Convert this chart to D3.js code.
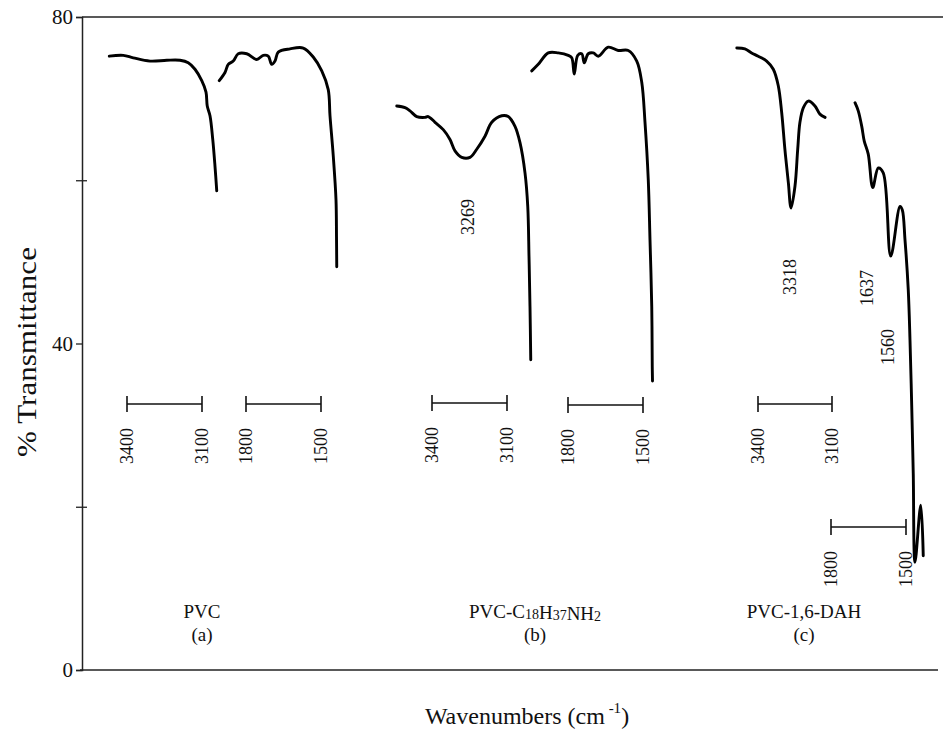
<!DOCTYPE html>
<html>
<head>
<meta charset="utf-8">
<script src="https://cdn.jsdelivr.net/npm/d3@7"></script>
<style>
  body { margin: 0; background: #fff; }
  text { font-family: "Liberation Serif", "Times New Roman", serif; fill: #111; }
</style>
</head>
<body>
<div class="container"></div>
<script>
/* y axis */
var yTicks = [0, 20, 40, 60, 80];
var yTickLabels = ['0', '', '40', '', '80'];

/* PVC (a) */
var pvcOhWn = [3471, 3415, 3375, 3308, 3241, 3188, 3155, 3128, 3101, 3084, 3079, 3068, 3057, 3048, 3041];
var pvcOhT  = [75.2, 75.3, 75.0, 74.6, 74.7, 74.7, 74.4, 73.6, 72.2, 70.8, 69.1, 67.9, 65.0, 61.7, 58.7];
var pvcCoWn = [1907, 1884, 1871, 1851, 1831, 1797, 1757, 1731, 1711, 1697, 1684, 1671, 1624, 1571, 1531, 1497, 1471, 1464, 1451, 1440, 1438, 1437];
var pvcCoT  = [72.2, 73.2, 74.2, 74.6, 75.5, 75.5, 74.8, 75.3, 75.2, 74.2, 74.6, 75.7, 76.1, 76.2, 75.1, 73.4, 71.1, 67.9, 63.0, 57.6, 53.1, 49.4];

/* PVC-C18H37NH2 (b) */
var odaOhWn = [3541, 3508, 3488, 3461, 3428, 3415, 3388, 3355, 3328, 3308, 3281, 3248, 3221, 3188, 3161, 3121, 3095, 3068, 3048, 3028, 3017, 3012, 3008, 3005];
var odaOhT  = [69.1, 68.9, 68.5, 67.8, 67.7, 67.8, 67.1, 66.2, 65.0, 63.6, 62.8, 62.8, 63.8, 65.4, 67.1, 67.9, 67.8, 66.6, 64.6, 60.9, 56.8, 50.7, 44.5, 38.0];
var odaCoWn = [1945, 1919, 1879, 1839, 1799, 1785, 1775, 1761, 1745, 1735, 1719, 1699, 1679, 1639, 1599, 1559, 1525, 1505, 1492, 1479, 1472, 1465, 1463, 1462];
var odaCoT  = [73.4, 74.2, 75.6, 75.6, 75.3, 75.0, 73.0, 75.3, 75.5, 74.4, 75.5, 75.6, 75.2, 76.3, 75.9, 75.9, 74.6, 72.0, 67.1, 60.1, 52.7, 44.5, 37.2, 35.4];

/* PVC-1,6-DAH (c) */
var dahOhWn = [3486, 3453, 3426, 3399, 3365, 3338, 3318, 3304, 3291, 3277, 3266, 3250, 3239, 3230, 3216, 3196, 3169, 3149, 3128];
var dahOhT  = [76.2, 76.1, 75.6, 75.2, 74.6, 73.6, 71.6, 68.3, 63.8, 59.7, 56.6, 59.3, 63.8, 67.1, 68.9, 69.7, 69.1, 68.1, 67.7];
var dahCoWn = [1704, 1691, 1677, 1667, 1651, 1633, 1611, 1591, 1561, 1524, 1515, 1504, 1491, 1484, 1477, 1471, 1464, 1441, 1431];
var dahCoT  = [69.5, 68.5, 66.6, 64.8, 63.2, 59.1, 61.5, 60.9, 50.7, 56.8, 56.4, 52.7, 46.6, 40.4, 32.2, 24.1, 13.2, 20.2, 14.0];

/* scale bar ranges (cm-1) */
var ohBar = [3400, 3100];
var coBar = [1800, 1500];

var samples = ['PVC', 'PVC-C18H37NH2', 'PVC-1,6-DAH'];
var sampleTags = ['(a)', '(b)', '(c)'];
var peakLabels = ['3269', '3318', '1637', '1560'];

buildChart();

function buildChart() {

  var w = 943;
  var h = 750;
  var axisX = 82;

  var svg = d3.select('.container')
    .append('svg')
    .attr('width', w)
    .attr('height', h)
    .style('background', '#fff');

  var y = d3.scaleLinear()
    .domain([0, 80])
    .range([670, 17]);

  /* one wavenumber scale per spectrum piece, each with its own 300 cm-1 bar */
  var segments = [
    {wn: pvcOhWn, t: pvcOhT, bar: ohBar, range: [127, 202], barY: 404},
    {wn: pvcCoWn, t: pvcCoT, bar: coBar, range: [246, 321], barY: 404},
    {wn: odaOhWn, t: odaOhT, bar: ohBar, range: [432, 507], barY: 403},
    {wn: odaCoWn, t: odaCoT, bar: coBar, range: [568, 643], barY: 405},
    {wn: dahOhWn, t: dahOhT, bar: ohBar, range: [758, 832], barY: 404},
    {wn: dahCoWn, t: dahCoT, bar: coBar, range: [831, 906], barY: 527}
  ];
  segments.forEach(function(s) {
    s.x = d3.scaleLinear().domain(s.bar).range(s.range);
  });

  /* frame */
  svg.append('line')
    .attr('x1', axisX).attr('x2', 943)
    .attr('y1', y(80)).attr('y2', y(80))
    .attr('stroke', '#222').attr('stroke-width', 1.4);
  svg.append('line')
    .attr('x1', axisX - 2).attr('x2', 938)
    .attr('y1', y(0)).attr('y2', y(0))
    .attr('stroke', '#222').attr('stroke-width', 1.6);

  /* y axis */
  var yAxis = d3.axisLeft(y)
    .tickValues(yTicks)
    .tickSizeOuter(0)
    .tickSize(6)
    .tickPadding(3)
    .tickFormat(function(d) { return yTickLabels[yTicks.indexOf(d)]; });

  var gy = svg.append('g')
    .attr('transform', 'translate(' + axisX + ',0)')
    .call(yAxis);
  gy.select('.domain').attr('stroke', '#222').attr('stroke-width', 1.5);
  gy.selectAll('.tick line').attr('stroke', '#222').attr('stroke-width', 1.3);
  gy.selectAll('.tick text')
    .style('font-family', '"Liberation Serif", serif')
    .style('font-size', '21px')
    .attr('fill', '#111');
  // the unlabelled ticks cross the axis
  gy.selectAll('.tick')
    .filter(function(d) { return yTickLabels[yTicks.indexOf(d)] === ''; })
    .append('line')
    .attr('x2', 5)
    .attr('stroke', '#222').attr('stroke-width', 1.3);

  /* spectra */
  var line = d3.line()
    .curve(d3.curveCatmullRom.alpha(0.5));

  segments.forEach(function(s) {
    var pts = s.wn.map(function(v, i) { return [s.x(v), y(s.t[i])]; });
    svg.append('path')
      .attr('d', line(pts))
      .attr('fill', 'none')
      .attr('stroke', '#000')
      .attr('stroke-width', 2.9)
      .attr('stroke-linejoin', 'round')
      .attr('stroke-linecap', 'round');
  });

  /* 300 cm-1 scale bars */
  segments.forEach(function(s) {
    var g = svg.append('g');
    g.append('line')
      .attr('x1', s.x(s.bar[0])).attr('x2', s.x(s.bar[1]))
      .attr('y1', s.barY).attr('y2', s.barY)
      .attr('stroke', '#111').attr('stroke-width', 1.4);
    s.bar.forEach(function(b) {
      g.append('line')
        .attr('x1', s.x(b)).attr('x2', s.x(b))
        .attr('y1', s.barY - 8).attr('y2', s.barY + 8)
        .attr('stroke', '#111').attr('stroke-width', 1.6);
      g.append('text')
        .attr('transform', 'translate(' + (s.x(b) + 6) + ',' + (s.barY + 42) + ') rotate(-90)')
        .attr('text-anchor', 'middle')
        .style('font-size', '18px')
        .text(b);
    });
  });

  /* peak labels */
  var peakPos = [[468, 217], [790, 277], [867, 288], [888, 347]];
  peakLabels.forEach(function(p, i) {
    svg.append('text')
      .attr('transform', 'translate(' + (peakPos[i][0] + 6) + ',' + peakPos[i][1] + ') rotate(-90)')
      .attr('text-anchor', 'middle')
      .style('font-size', '18px')
      .text(p);
  });

  /* sample names */
  var sampleX = [202, 535, 804];
  samples.forEach(function(name, i) {
    var t = svg.append('text')
      .attr('x', sampleX[i])
      .attr('y', 618)
      .attr('text-anchor', 'middle')
      .style('font-size', '19px');
    // digits in the formula are set small
    var parts = name === 'PVC-C18H37NH2' ? name.split(/(\d+)/) : [name];
    parts.forEach(function(part) {
      if (part === '') return;
      if (/^\d+$/.test(part)) {
        t.append('tspan').style('font-size', '14px').attr('dy', 1).text(part);
        t.append('tspan').attr('dy', -1).text('');
      } else {
        t.append('tspan').text(part);
      }
    });
    svg.append('text')
      .attr('x', sampleX[i])
      .attr('y', 641)
      .attr('text-anchor', 'middle')
      .style('font-size', '19px')
      .text(sampleTags[i]);
  });

  /* axis titles */
  svg.append('text')
    .attr('transform', 'translate(36,352) rotate(-90)')
    .attr('text-anchor', 'middle')
    .attr('textLength', 210)
    .attr('lengthAdjust', 'spacingAndGlyphs')
    .style('font-size', '28px')
    .text('% Transmittance');

  var xt = svg.append('text')
    .attr('x', 527)
    .attr('y', 724)
    .attr('text-anchor', 'middle')
    .style('font-size', '24px');
  xt.append('tspan').text('Wavenumbers (cm');
  xt.append('tspan').attr('dy', -11).style('font-size', '15px').text(' -1');
  xt.append('tspan').attr('dy', 11).text(')');
}
</script>
</body>
</html>
